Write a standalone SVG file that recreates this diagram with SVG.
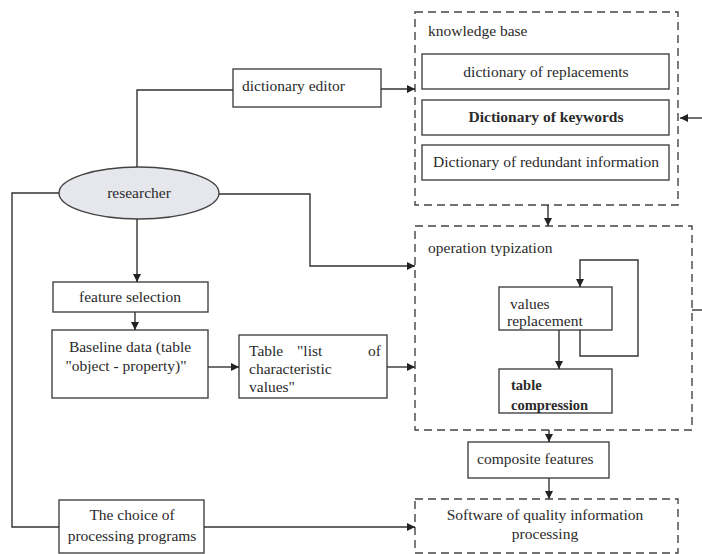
<svg xmlns="http://www.w3.org/2000/svg" width="702" height="554" viewBox="0 0 702 554">
<defs>
<marker id="ah" viewBox="0 0 10 10" refX="10" refY="5" markerWidth="8" markerHeight="8" markerUnits="userSpaceOnUse" orient="auto">
<path d="M0,0 L10,5 L0,10 z" fill="#222"/>
</marker>
<style>
.box{fill:#fff;stroke:#444;stroke-width:1.4}
.dash{fill:none;stroke:#444;stroke-width:1.4;stroke-dasharray:8 5}
.ln{fill:none;stroke:#333;stroke-width:1.4}
.arr{fill:none;stroke:#333;stroke-width:1.4;marker-end:url(#ah)}
text{font-family:"Liberation Serif","Times New Roman",serif;font-size:15.5px;fill:#2a2a2a}
.c{text-anchor:middle}
.b{font-weight:bold}
.s{font-size:14.5px}
</style>
</defs>
<rect width="702" height="554" fill="#fff"/>

<g id="knowledge-base">
<rect class="dash" x="415" y="12" width="263" height="193"/>
<text x="428" y="36">knowledge base</text>
</g>
<g id="dict-replacements">
<rect class="box" x="422" y="54" width="247" height="35"/>
<text class="c" x="546" y="77">dictionary of replacements</text>
</g>
<g id="dict-keywords">
<rect class="box" x="422" y="100" width="247" height="35"/>
<text class="c b" x="546" y="122">Dictionary of keywords</text>
</g>
<g id="dict-redundant">
<rect class="box" x="422" y="145" width="247" height="35"/>
<text class="c" x="546" y="167">Dictionary of redundant information</text>
</g>

<g id="operation-typization">
<rect class="dash" x="415" y="226" width="277" height="204"/>
<text x="428" y="253">operation typization</text>
</g>
<g id="values-replacement">
<rect class="box" x="499" y="287" width="113" height="43"/>
<text x="510" y="309">values</text>
<text x="507" y="326">replacement</text>
</g>
<g id="table-compression">
<rect class="box" x="499" y="369" width="113" height="44"/>
<text class="b s" x="511" y="390">table</text>
<text class="b s" x="511" y="410">compression</text>
</g>

<g id="dictionary-editor">
<rect class="box" x="233" y="69" width="148" height="38"/>
<text x="242" y="91">dictionary editor</text>
</g>
<g id="researcher">
<ellipse cx="139" cy="193" rx="80" ry="26" fill="#e6e7ec" stroke="#444" stroke-width="1.4"/>
<text class="c" x="139" y="198">researcher</text>
</g>
<g id="feature-selection">
<rect class="box" x="53" y="282" width="155" height="30"/>
<text class="c" x="130" y="302">feature selection</text>
</g>
<g id="baseline-data">
<rect class="box" x="52" y="330" width="156" height="68"/>
<text class="c" x="130" y="352">Baseline data (table</text>
<text class="c" x="126" y="371">"object - property)"</text>
</g>
<g id="table-list">
<rect class="box" x="239" y="335" width="148" height="63"/>
<text x="249" y="356">Table</text>
<text x="297" y="356">"list</text>
<text x="381" y="356" text-anchor="end">of</text>
<text x="249" y="374">characteristic</text>
<text x="249" y="392">values"</text>
</g>
<g id="composite-features">
<rect class="box" x="468" y="442" width="141" height="36"/>
<text x="477" y="464">composite features</text>
</g>
<g id="software">
<rect class="dash" x="415" y="499" width="263" height="54"/>
<text class="c" x="545" y="520">Software of quality information</text>
<text class="c" x="545" y="539">processing</text>
</g>
<g id="choice-programs">
<rect class="box" x="59" y="500" width="145" height="53"/>
<text class="c" x="132" y="520">The choice of</text>
<text class="c" x="132" y="541">processing programs</text>
</g>

<g id="connectors">
<polyline class="ln" points="137,167 137,90 233,90"/>
<line class="arr" x1="381" y1="89" x2="415" y2="89"/>
<line class="arr" x1="702" y1="118" x2="680" y2="118"/>
<line class="ln" x1="692" y1="310" x2="702" y2="310"/>
<line class="arr" x1="548" y1="205" x2="548" y2="226"/>
<polyline class="arr" points="219,194 310,194 310,266 415,266"/>
<line class="arr" x1="137" y1="219" x2="137" y2="282"/>
<line class="arr" x1="135" y1="312" x2="135" y2="330"/>
<line class="arr" x1="208" y1="367" x2="239" y2="367"/>
<line class="arr" x1="387" y1="367" x2="415" y2="367"/>
<polyline class="ln" points="59,193 12,193 12,527 59,527"/>
<line class="arr" x1="204" y1="527" x2="415" y2="527"/>
<polyline class="arr" points="580,330 580,356 638,356 638,260 580,260 580,287"/>
<line class="arr" x1="559" y1="330" x2="559" y2="369"/>
<line class="arr" x1="549" y1="430" x2="549" y2="442"/>
<line class="arr" x1="549" y1="478" x2="549" y2="499"/>
</g>
</svg>
